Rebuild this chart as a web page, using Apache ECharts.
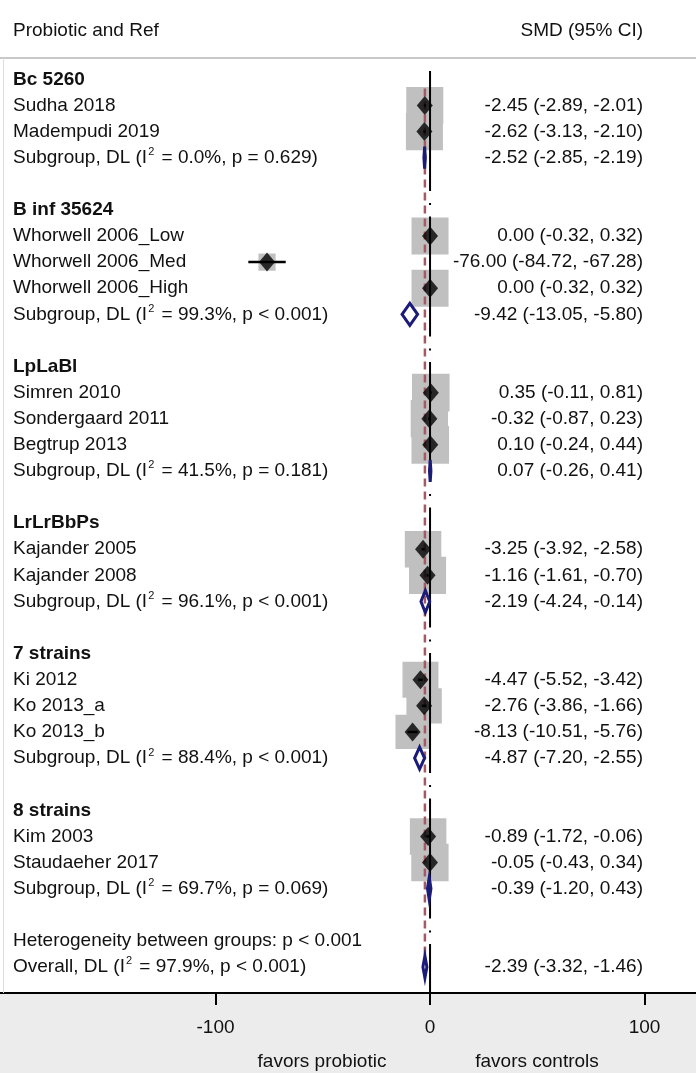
<!DOCTYPE html>
<html><head><meta charset="utf-8">
<script src="https://cdn.jsdelivr.net/npm/echarts@6/dist/echarts.min.js"></script>
<style>html,body{margin:0;padding:0;background:#fff}#c{width:696px;height:1073px}</style>
</head><body><div id="c"></div>
<script>
// ---------- DATA ----------
const groupNames = ["Bc 5260", "B inf 35624", "LpLaBl", "LrLrBbPs", "7 strains", "8 strains"];
const studyNames = ["Sudha 2018", "Madempudi 2019",
  "Whorwell 2006_Low", "Whorwell 2006_Med", "Whorwell 2006_High",
  "Simren 2010", "Sondergaard 2011", "Begtrup 2013",
  "Kajander 2005", "Kajander 2008",
  "Ki 2012", "Ko 2013_a", "Ko 2013_b",
  "Kim 2003", "Staudaeher 2017"];
const studyGroup = [0, 0, 1, 1, 1, 2, 2, 2, 3, 3, 4, 4, 4, 5, 5];
const studyEst = [-2.45, -2.62, 0.00, -76.00, 0.00, 0.35, -0.32, 0.10, -3.25, -1.16, -4.47, -2.76, -8.13, -0.89, -0.05];
const studyLo  = [-2.89, -3.13, -0.32, -84.72, -0.32, -0.11, -0.87, -0.24, -3.92, -1.61, -5.52, -3.86, -10.51, -1.72, -0.43];
const studyHi  = [-2.01, -2.10, 0.32, -67.28, 0.32, 0.81, 0.23, 0.44, -2.58, -0.70, -3.42, -1.66, -5.76, -0.06, 0.34];
const studyWeight = [7.0, 7.0, 7.0, 1.5, 7.0, 7.2, 7.1, 7.2, 6.8, 7.0, 6.6, 6.4, 6.0, 6.8, 7.1];
const subI2  = ["0.0", "99.3", "41.5", "96.1", "88.4", "69.7"];
const subP   = ["p = 0.629", "p < 0.001", "p = 0.181", "p < 0.001", "p < 0.001", "p = 0.069"];
const subEst = [-2.52, -9.42, 0.07, -2.19, -4.87, -0.39];
const subLo  = [-2.85, -13.05, -0.26, -4.24, -7.20, -1.20];
const subHi  = [-2.19, -5.80, 0.41, -0.14, -2.55, 0.43];
const overallEst = -2.39, overallLo = -3.32, overallHi = -1.46;
const overallI2 = "97.9", overallP = "p < 0.001";
const hetText = "Heterogeneity between groups: p < 0.001";
const xTicks = [-100, 0, 100];
const headerLeft = "Probiotic and Ref";
const headerRight = "SMD (95% CI)";
const favorLeft = "favors probiotic";
const favorRight = "favors controls";

// ---------- LAYOUT OF ROWS ----------
const FONT = "'Liberation Sans', Arial, sans-serif";
const TXT = '#111111';
const NAVY = '#1b1b78';
const fmt = v => v.toFixed(2);
const rows = [];
const studyRow = [];
let r = 0;
groupNames.forEach((g, gi) => {
  rows.push({row: r++, kind: 'header', left: g, right: ''});
  studyNames.forEach((s, si) => {
    if (studyGroup[si] === gi) {
      studyRow[si] = r;
      rows.push({row: r++, kind: 'study', left: s,
        right: fmt(studyEst[si]) + ' (' + fmt(studyLo[si]) + ', ' + fmt(studyHi[si]) + ')'});
    }
  });
  rows.push({row: r++, kind: 'sub', gi,
    left: 'Subgroup, DL (I{sup|2} = ' + subI2[gi] + '%, ' + subP[gi] + ')',
    right: fmt(subEst[gi]) + ' (' + fmt(subLo[gi]) + ', ' + fmt(subHi[gi]) + ')'});
  r++;
});
rows.push({row: r++, kind: 'het', left: hetText, right: ''});
const overallRow = r;
rows.push({row: r++, kind: 'overall',
  left: 'Overall, DL (I{sup|2} = ' + overallI2 + '%, ' + overallP + ')',
  right: fmt(overallEst) + ' (' + fmt(overallLo) + ', ' + fmt(overallHi) + ')'});

const subRows = rows.filter(x => x.kind === 'sub').map(x => x.row);
const diamondData = subEst.map((e, i) => [e, subRows[i], subLo[i], subHi[i]]);
diamondData.push([overallEst, overallRow, overallLo, overallHi]);

const chart = echarts.init(document.getElementById('c'), null, {renderer: 'canvas'});

const option = {
  animation: false,
  backgroundColor: '#ffffff',
  grid: {left: 0, right: 0, top: 58, bottom: 80},
  xAxis: {
    type: 'value', min: -200.5, max: 124,
    axisLine: {show: true, onZero: false, lineStyle: {color: '#000', width: 2}},
    axisTick: {show: true, customValues: xTicks, length: 12, lineStyle: {color: '#000', width: 2}},
    axisLabel: {customValues: xTicks, fontSize: 19, color: TXT, margin: 25, fontFamily: FONT},
    splitLine: {show: false}
  },
  yAxis: {type: 'value', inverse: true, min: -0.82, max: 35, show: false},
  graphic: [
    {type: 'rect', z: -10, shape: {x: 0, y: 994, width: 696, height: 79}, style: {fill: '#ececec'}},
    {type: 'line', z: 5, shape: {x1: 0, y1: 58, x2: 696, y2: 58}, style: {stroke: '#c8c8c8', lineWidth: 2}},
    {type: 'line', z: 5, shape: {x1: 3.5, y1: 58, x2: 3.5, y2: 993}, style: {stroke: '#dddddd', lineWidth: 1}},
    {type: 'text', z: 5, x: 13, y: 31, style: {text: headerLeft, fontSize: 19, fontFamily: FONT, fill: TXT, verticalAlign: 'middle'}},
    {type: 'text', z: 5, x: 643, y: 31, style: {text: headerRight, fontSize: 19, fontFamily: FONT, fill: TXT, align: 'right', verticalAlign: 'middle'}},
    {type: 'text', z: 5, x: 322, y: 1062, style: {text: favorLeft, fontSize: 19, fontFamily: FONT, fill: TXT, align: 'center', verticalAlign: 'middle'}},
    {type: 'text', z: 5, x: 537, y: 1062, style: {text: favorRight, fontSize: 19, fontFamily: FONT, fill: TXT, align: 'center', verticalAlign: 'middle'}}
  ],
  series: [
    // weight boxes
    {
      type: 'custom', z: 1, silent: true,
      data: studyEst.map((e, i) => [e, studyRow[i], studyWeight[i]]),
      renderItem: (p, api) => {
        const c = api.coord([api.value(0), api.value(1)]);
        const s = 14 * Math.sqrt(api.value(2));
        return {type: 'rect', shape: {x: c[0] - s / 2, y: c[1] - s / 2, width: s, height: s}, style: {fill: '#c0c0c0'}};
      }
    },
    // null line at 0
    {
      type: 'custom', z: 2, silent: true,
      data: [[0, -0.32]],
      renderItem: (p, api) => {
        const c = api.coord([api.value(0), api.value(1)]);
        const bottom = p.coordSys.y + p.coordSys.height;
        return {type: 'line', shape: {x1: c[0], y1: c[1], x2: c[0], y2: bottom},
          style: {stroke: '#000', lineWidth: 2, lineDash: [120, 12, 2, 11.5]}};
      }
    },
    // overall effect dashed line
    {
      type: 'custom', z: 2, silent: true,
      data: [[overallEst, 0.35, overallRow - 0.45]],
      renderItem: (p, api) => {
        const a = api.coord([api.value(0), api.value(1)]);
        const b = api.coord([api.value(0), api.value(2)]);
        return {type: 'line', shape: {x1: a[0], y1: a[1], x2: b[0], y2: b[1]},
          style: {stroke: '#a35a64', lineWidth: 2.5, lineDash: [8, 5]}};
      }
    },
    // CI lines
    {
      type: 'custom', z: 3, silent: true,
      data: studyEst.map((e, i) => [studyLo[i], studyRow[i], studyHi[i]]),
      renderItem: (p, api) => {
        const a = api.coord([api.value(0), api.value(1)]);
        const b = api.coord([api.value(2), api.value(1)]);
        return {type: 'line', shape: {x1: a[0], y1: a[1], x2: b[0], y2: b[1]}, style: {stroke: '#000', lineWidth: 2.5}};
      }
    },
    // point estimates
    {
      type: 'scatter', z: 4, silent: true,
      symbol: 'diamond', symbolSize: [16, 19],
      itemStyle: {color: '#000'},
      data: studyEst.map((e, i) => [e, studyRow[i]])
    },
    // pooled diamonds
    {
      type: 'custom', z: 4, silent: true,
      data: diamondData,
      renderItem: (p, api) => {
        const c = api.coord([api.value(0), api.value(1)]);
        const lo = api.coord([api.value(2), api.value(1)])[0];
        const hi = api.coord([api.value(3), api.value(1)])[0];
        const h = 11;
        return {type: 'polygon', shape: {points: [[lo, c[1]], [c[0], c[1] - h], [hi, c[1]], [c[0], c[1] + h]]},
          style: {fill: 'none', stroke: NAVY, lineWidth: 3, lineJoin: 'miter'}};
      }
    },
    // row texts
    {
      type: 'custom', z: 5, silent: true,
      data: rows.map(x => [0, x.row]),
      renderItem: (p, api) => {
        const it = rows[p.dataIndex];
        const y = api.coord([0, api.value(1)])[1];
        const bold = it.kind === 'header';
        const children = [{
          type: 'text', x: 13, y: y,
          style: {text: it.left, fontSize: 19, fontFamily: FONT, fontWeight: bold ? 'bold' : 'normal',
            fill: TXT, verticalAlign: 'middle', align: 'left', lineHeight: 22,
            rich: {sup: {fontSize: 11, fontFamily: FONT, fill: TXT, lineHeight: 11, verticalAlign: 'top', padding: [0, 2, 0, 1]}}}
        }];
        if (it.right) {
          children.push({type: 'text', x: 643, y: y,
            style: {text: it.right, fontSize: 19, fontFamily: FONT, fill: TXT, verticalAlign: 'middle', align: 'right'}});
        }
        return {type: 'group', children};
      }
    }
  ]
};
chart.setOption(option);
</script>
</body></html>
